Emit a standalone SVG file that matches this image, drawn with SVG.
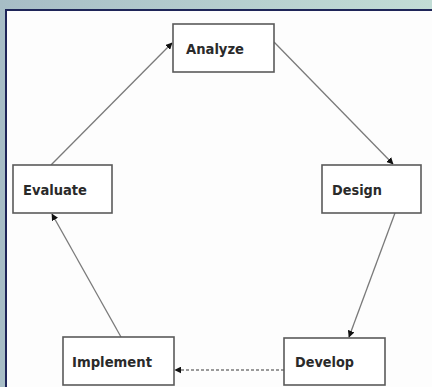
<svg xmlns="http://www.w3.org/2000/svg" width="432" height="387" viewBox="0 0 432 387">
<defs>
<linearGradient id="bg" x1="0" y1="0" x2="1" y2="0">
<stop offset="0" stop-color="#a7bdc6"/>
<stop offset="1" stop-color="#c2ddd6"/>
</linearGradient>
<marker id="ah" viewBox="0 0 10 10" refX="9" refY="5" markerWidth="7" markerHeight="7" markerUnits="userSpaceOnUse" orient="auto">
<path d="M0,0 L10,5 L0,10 z" fill="#111"/>
</marker>
<style>
.box{fill:#fff;stroke:#5a5a5a;stroke-width:1.6}
.lbl{font-family:"DejaVu Sans Condensed","DejaVu Sans",sans-serif;font-size:14px;fill:#2a2a2a;font-weight:bold}
.con{stroke:#7a7a7a;stroke-width:1.3;fill:none;marker-end:url(#ah)}
</style>
</defs>
<rect x="0" y="0" width="432" height="387" fill="url(#bg)"/>
<rect x="6" y="10" width="430" height="380" fill="#fdfdfd" stroke="#1e2558" stroke-width="2"/>
<g id="connectors">
<line class="con" x1="51" y1="165" x2="172" y2="43"/>
<line class="con" x1="274" y1="42" x2="393" y2="164"/>
<line class="con" x1="395" y1="213" x2="349" y2="337"/>
<line class="con" x1="284" y1="370" x2="175" y2="370" stroke-dasharray="3,2"/>
<line class="con" x1="121" y1="337" x2="52" y2="214"/>
</g>
<g id="analyze"><rect class="box" x="173" y="24" width="101" height="48"/><text class="lbl" x="186" y="54" textLength="58" lengthAdjust="spacingAndGlyphs">Analyze</text></g>
<g id="design"><rect class="box" x="322" y="165" width="99" height="48"/><text class="lbl" x="332" y="195" textLength="50" lengthAdjust="spacingAndGlyphs">Design</text></g>
<g id="develop"><rect class="box" x="284" y="338" width="101" height="47"/><text class="lbl" x="295" y="367" textLength="59" lengthAdjust="spacingAndGlyphs">Develop</text></g>
<g id="implement"><rect class="box" x="63" y="337" width="111" height="48"/><text class="lbl" x="72" y="367" textLength="80" lengthAdjust="spacingAndGlyphs">Implement</text></g>
<g id="evaluate"><rect class="box" x="13" y="165" width="99" height="48"/><text class="lbl" x="23" y="195" textLength="64" lengthAdjust="spacingAndGlyphs">Evaluate</text></g>
</svg>
